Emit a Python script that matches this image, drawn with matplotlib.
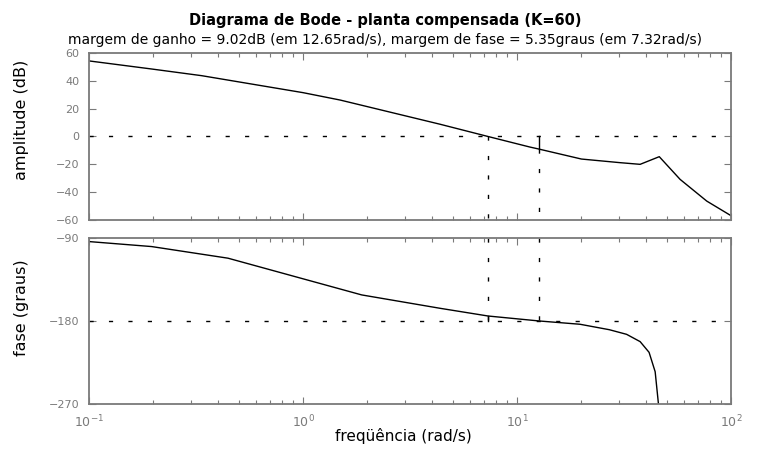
import numpy as np
import matplotlib
matplotlib.use("Agg")
import matplotlib.pyplot as plt
from matplotlib.ticker import LogLocator, FixedLocator, NullFormatter

# ---- data ----
w_mag = [0.1, 0.196, 0.336, 1.0, 1.49, 4.37, 7.32, 11.5, 12.65, 20.0, 30.3, 37.6, 46.2, 57.8, 77.0, 100.0]
mag_db = [54.3, 48.5, 43.7, 31.5, 26.2, 8.8, 0.0, -7.6, -9.02, -16.2, -18.8, -20.0, -14.5, -30.8, -46.4, -56.9]

w_ph = [0.1, 0.196, 0.446, 1.88, 4.37, 7.32, 12.65, 19.7, 27.0, 32.5, 37.6, 41.4, 44.2, 46.5]
phase_deg = [-94.0, -99.4, -112.0, -151.8, -166.3, -174.65, -180.0, -183.6, -189.5, -194.5, -202.4, -214.0, -235.0, -285.0]

gain_margin_db = 9.02
gain_margin_w = 12.65
phase_margin_deg = 5.35
phase_margin_w = 7.32

mag_ticks = [-60, -40, -20, 0, 20, 40, 60]
phase_ticks = [-270, -180, -90]

title = "Diagrama de Bode - planta compensada (K=60)"
subtitle = ("margem de ganho = 9.02dB (em 12.65rad/s), "
            "margem de fase = 5.35graus (em 7.32rad/s)")

# ---- style ----
plt.rcParams['font.family'] = ['DejaVu Sans']
gray = '#7a7a7a'
dot = (0, (3, 11))

fig = plt.figure(figsize=(7.70, 4.49), dpi=100)
ax1 = fig.add_axes([0.1156, 0.510, 0.8338, 0.372])
ax2 = fig.add_axes([0.1156, 0.1002, 0.8338, 0.370])

for ax in (ax1, ax2):
    ax.set_xscale('log')
    ax.set_xlim(0.1, 100)
    for s in ax.spines.values():
        s.set_color(gray)
        s.set_linewidth(1.3)
    ax.tick_params(which='both', direction='in', top=True, right=True,
                   color=gray, labelcolor=gray, width=0.8)
    ax.tick_params(axis='y', labelsize=8, pad=7)
    ax.tick_params(axis='x', labelsize=9, pad=7)
    ax.tick_params(which='major', length=5)
    ax.tick_params(which='minor', length=3)
    ax.xaxis.set_major_locator(LogLocator(base=10, numticks=10))
    ax.xaxis.set_minor_locator(LogLocator(base=10, subs=np.arange(2, 10), numticks=20))
    ax.xaxis.set_minor_formatter(NullFormatter())

# magnitude
ax1.plot(w_mag, mag_db, color='black', lw=1.0)
ax1.set_ylim(-60, 60)
ax1.yaxis.set_major_locator(FixedLocator(mag_ticks))
ax1.axhline(0, color='black', lw=1.0, ls=dot)
ax1.plot([phase_margin_w, phase_margin_w], [0, -60], color='black', lw=1.0, ls=dot)
ax1.plot([gain_margin_w, gain_margin_w], [0, -gain_margin_db], color='black', lw=1.0)
ax1.plot([gain_margin_w, gain_margin_w], [-gain_margin_db, -60], color='black', lw=1.0, ls=dot)
ax1.tick_params(labelbottom=False)
ax1.set_ylabel("amplitude (dB)", fontsize=11.5)
ax1.yaxis.set_label_coords(-0.093, 0.6)

# phase
ax2.plot(w_ph, phase_deg, color='black', lw=1.0)
ax2.set_ylim(-270, -90)
ax2.yaxis.set_major_locator(FixedLocator(phase_ticks))
ax2.axhline(-180, color='black', lw=1.0, ls=dot)
ax2.plot([phase_margin_w, phase_margin_w], [-90, -180], color='black', lw=1.0, ls=dot)
ax2.plot([phase_margin_w, phase_margin_w], [-180, -180 + phase_margin_deg], color='black', lw=1.0)
ax2.plot([gain_margin_w, gain_margin_w], [-90, -180], color='black', lw=1.0, ls=dot)
ax2.set_ylabel("fase (graus)", fontsize=11.5)
ax2.yaxis.set_label_coords(-0.093, 0.578)
ax2.set_xlabel("freqüência (rad/s)", fontsize=11)
ax2.xaxis.set_label_coords(0.49, -0.145)

fig.text(0.5, 1 - 20 / 449, title, ha='center', va='center', fontsize=10.5, fontweight='bold')
fig.text(0.5, 1 - 40 / 449, subtitle, ha='center', va='center', fontsize=10)

fig.savefig("out.png", dpi=100)
